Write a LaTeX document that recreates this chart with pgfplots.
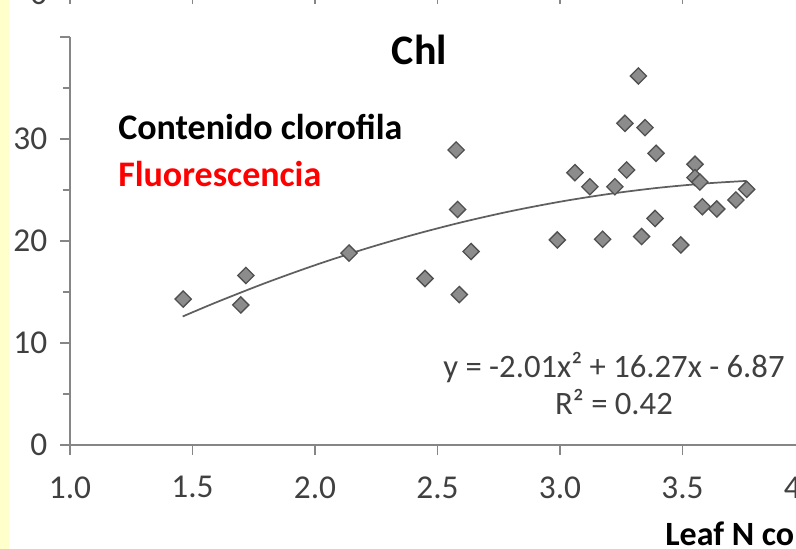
\documentclass[border=0pt]{standalone}
\usepackage{pgfplots}
\pgfplotsset{compat=1.18}
\usepackage{fontspec}
\setmainfont{Carlito}
\definecolor{axisgrey}{RGB}{134,134,134}
\definecolor{ticktext}{RGB}{64,64,64}
\definecolor{markfill}{RGB}{140,140,140}
\definecolor{markline}{RGB}{80,80,80}
\definecolor{curvegrey}{RGB}{95,95,95}
\definecolor{bgyellow}{RGB}{255,255,204}

\pgfplotstableread{
x y
1.462 14.31
1.697 13.73
1.718 16.62
2.139 18.82
2.449 16.32
2.576 28.92
2.582 23.09
2.589 14.75
2.637 18.97
2.989 20.10
3.061 26.70
3.122 25.32
3.174 20.17
3.224 25.32
3.265 31.54
3.272 26.96
3.320 36.18
3.333 20.44
3.347 31.11
3.392 28.60
3.388 22.21
3.493 19.61
3.551 27.52
3.551 26.21
3.571 25.78
3.581 23.36
3.640 23.14
3.718 24.02
3.762 25.07
}\chldata

\pgfplotstableread{
x y
1.46 12.600
1.60 14.016
1.80 15.904
2.00 17.630
2.20 19.196
2.40 20.600
2.60 21.844
2.80 22.928
3.00 23.850
3.20 24.612
3.40 25.212
3.60 25.652
3.76 25.889
}\trend

\pgfplotsset{
  chlaxis/.style={
    scale only axis,
    width=551.25pt,
    xmin=1, xmax=4,
    axis x line=bottom, axis y line=left,
    axis line style={-, draw=axisgrey, line width=1.6pt},
    tick align=outside,
    major tick length=7.5pt, minor tick length=5pt,
    every tick/.style={draw=axisgrey, line width=1.3pt},
    xtick={1,1.5,2,2.5,3,3.5,4},
    /pgf/number format/assume math mode=true,
    tick label style={font=\fontsize{25}{29}\selectfont, text=ticktext},
    x tick label style={yshift=-12.5pt, /pgf/number format/.cd, fixed, fixed zerofill, precision=1, /tikz/.cd},
    y tick label style={xshift=-6pt, /pgf/number format/.cd, fixed, precision=0, /tikz/.cd},
  }
}

\begin{document}
\begin{tikzpicture}
\useasboundingbox (0,0) rectangle (597pt,-411.75pt);
\clip (0,0) rectangle (597pt,-411.75pt);
\fill[white] (0,0) rectangle (597pt,-411.75pt);
\fill[bgyellow] (0,0) rectangle (6.4pt,-411.75pt);

% fragment of the chart above (only its bottom axis is visible)
\begin{axis}[chlaxis, at={(52.5pt,4.5pt)}, anchor=south west,
  height=200pt, ymin=0, ymax=40, ytick={0}, yticklabels={0}, xticklabels={}]
\addplot[draw=none] coordinates {(1,0)};
\end{axis}

\begin{axis}[chlaxis, at={(52.5pt,-333.75pt)}, anchor=south west,
  height=306pt, ymin=0, ymax=40,
  ytick={0,10,20,30,40}, yticklabels={0,10,20,30,{}},
  minor ytick={5,15,25,35}, clip=false]
\addplot[only marks, mark=square*, mark size=4.3pt,
  mark options={rotate=45, fill=markfill, draw=markline, line width=1pt}]
  table[x=x, y=y] {\chldata};
\addplot[smooth, no marks, draw=curvegrey, line width=1.3pt] table[x=x, y=y] {\trend};
\end{axis}

\begin{scope}[x=0.75pt, y=-0.75pt]
\node[anchor=base, inner sep=0pt, font=\bfseries\fontsize{31.5}{36}\selectfont] at (419.5,65) {Chl};
\node[anchor=base west, inner sep=0pt, font=\bfseries\fontsize{27}{32}\selectfont] at (118,140) {Contenido clorofila};
\node[anchor=base west, inner sep=0pt, text=red, font=\bfseries\fontsize{27}{32}\selectfont] at (118,186) {Fluorescencia};
\node[anchor=base, inner sep=0pt, text=ticktext, font=\fontsize{24.5}{28}\selectfont] at (614,377) {y = -2.01x² + 16.27x - 6.87};
\node[anchor=base, inner sep=0pt, text=ticktext, font=\fontsize{24.5}{28}\selectfont] at (614,414) {R² = 0.42};
\node[anchor=base west, inner sep=0pt, font=\bfseries\fontsize{25.5}{30}\selectfont] at (665,545) {Leaf N content (\%)};
\end{scope}
\end{tikzpicture}
\end{document}
